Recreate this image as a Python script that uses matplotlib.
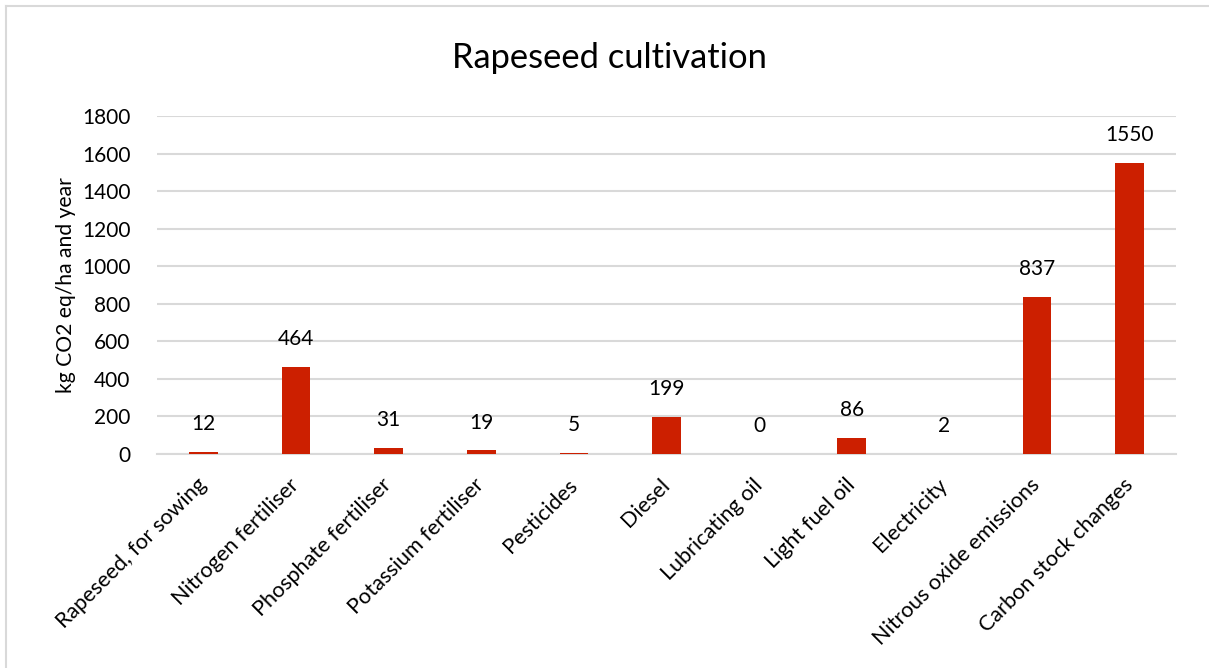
import matplotlib
matplotlib.use("Agg")
import matplotlib.pyplot as plt
from matplotlib.lines import Line2D

categories = [
    "Rapeseed, for sowing", "Nitrogen fertiliser", "Phosphate fertiliser",
    "Potassium fertiliser", "Pesticides", "Diesel", "Lubricating oil",
    "Light fuel oil", "Electricity", "Nitrous oxide emissions",
    "Carbon stock changes",
]
values = [12, 464, 31, 19, 5, 199, 0, 86, 2, 837, 1550]
y_ticks = [0, 200, 400, 600, 800, 1000, 1200, 1400, 1600, 1800]

plt.rcParams["font.family"] = ["Lato", "DejaVu Sans"]

W, H = 1209, 668
fig = plt.figure(figsize=(W / 100, H / 100), dpi=100)
ax = fig.add_axes([157 / W, 1 - 454 / H, (1176 - 157) / W, (454 - 116) / H])

# outer chart frame (top and left edges)
frame_y = 1 - 6 / H
frame_x = 6 / W
fig.add_artist(Line2D([frame_x, 1.0], [frame_y, frame_y], transform=fig.transFigure,
                      color="#d9d9d9", linewidth=1.5))
fig.add_artist(Line2D([frame_x, frame_x], [0.0, frame_y], transform=fig.transFigure,
                      color="#d9d9d9", linewidth=1.5))

x = range(len(categories))
ax.bar(x, values, width=0.31, color="#cc1f00", zorder=3)
for xi, v in zip(x, values):
    ax.annotate(str(v), (xi, v), xytext=(0, 20), textcoords="offset points",
                ha="center", va="center", fontsize=15, color="#000000")

ax.set_xlim(-0.5, len(categories) - 0.5)
ax.set_ylim(0, 1800)
ax.set_yticks(y_ticks)
ax.set_yticklabels([str(t) for t in y_ticks], fontsize=15)
ax.set_xticks(list(x))
ax.set_xticklabels(categories, rotation=45, ha="right", va="center",
                   rotation_mode="anchor", fontsize=15.6)
ax.tick_params(axis="y", length=0, pad=19)
ax.tick_params(axis="x", length=0, pad=20)
ax.grid(axis="y", color="#d9d9d9", linewidth=1.5, zorder=0)
for s in ["top", "right", "left"]:
    ax.spines[s].set_visible(False)
ax.spines["bottom"].set_color("#d9d9d9")
ax.spines["bottom"].set_linewidth(1.5)

ax.set_ylabel("kg CO2 eq/ha and year", fontsize=15.2)
ax.yaxis.set_label_coords((76 - 157) / (1176 - 157), 0.5)
fig.text(609 / W, 1 - 58 / H, "Rapeseed cultivation", ha="center", va="center",
         fontsize=24.8)

fig.savefig("out.png", dpi=100)
